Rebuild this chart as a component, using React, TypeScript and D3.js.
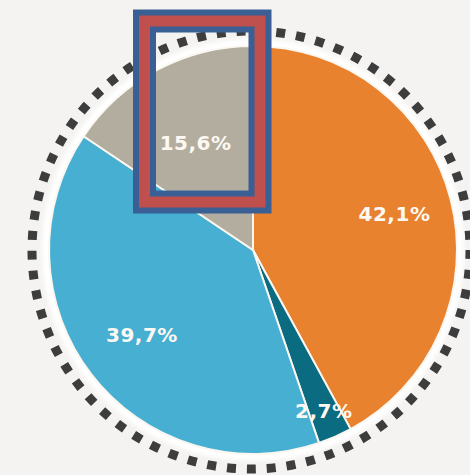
import React from "react";
import * as d3 from "d3";

const categories = ["A", "B", "C", "D"];
const values = [42.1, 2.7, 39.7, 15.6];
const labels = ["42,1%", "2,7%", "39,7%", "15,6%"];
const colors = ["#E8822E", "#0B6B81", "#47AFD2", "#B3AD9F"];

const W = 470;
const H = 475;
const cx = 253;
const cy = 250;
const R = 204;
const ringR = 219;
const labelRadii = [146, 176, 140, 122];

export default function App() {
  const pie = d3
    .pie<number>()
    .sort(null)
    .value((d) => d)
    .startAngle(0)
    .endAngle(2 * Math.PI);
  const arcs = pie(values);
  const arc = d3.arc<d3.PieArcDatum<number>>().innerRadius(0).outerRadius(R);
  const labelPos = (d: d3.PieArcDatum<number>, i: number) => {
    const r = labelRadii[i];
    return d3.arc<d3.PieArcDatum<number>>().innerRadius(r).outerRadius(r).centroid(d);
  };
  const circ = 2 * Math.PI * ringR;
  const nDots = 69;
  const period = circ / nDots;
  const dot = 9;

  return (
    <div style={{ position: "fixed", left: 0, top: 0 }}>
      <svg width={W} height={H} style={{ display: "block" }}>
        <defs>
          <filter id="soft" x="-10%" y="-10%" width="120%" height="120%">
            <feGaussianBlur stdDeviation="2" />
          </filter>
          <filter id="dotblur">
            <feGaussianBlur stdDeviation="0.6" />
          </filter>
        </defs>
        <rect width={W} height={H} fill="#f4f3f1" />
        <circle cx={cx} cy={cy} r={R + 7} fill="#ffffff" filter="url(#soft)" />
        <circle
          cx={cx - 2}
          cy={cy}
          r={ringR}
          fill="none"
          stroke="#3c3c3c"
          strokeWidth={dot}
          strokeDasharray={`${dot} ${period - dot}`}
          filter="url(#dotblur)"
        />
        <g transform={`translate(${cx},${cy})`}>
          {arcs.map((d, i) => (
            <path
              key={categories[i]}
              d={arc(d) || ""}
              fill={colors[i]}
              stroke="#fbf7f0"
              strokeWidth={2}
              strokeLinejoin="round"
            />
          ))}
          {arcs.map((d, i) => {
            const [x, y] = labelPos(d, i);
            return (
              <text
                key={"t" + categories[i]}
                x={x}
                y={y}
                dy="0.36em"
                textAnchor="middle"
                fill="#fdf8f1"
                fontFamily="DejaVu Sans, sans-serif"
                fontWeight="bold"
                fontSize={20}
                letterSpacing={0.5}
              >
                {labels[i]}
              </text>
            );
          })}
        </g>
        <rect x={144.5} y={21} width={115.5} height={181} fill="none" stroke="#3A5F95" strokeWidth={23} />
        <rect x={144.5} y={21} width={115.5} height={181} fill="none" stroke="#C0504D" strokeWidth={11} />
      </svg>
    </div>
  );
}
